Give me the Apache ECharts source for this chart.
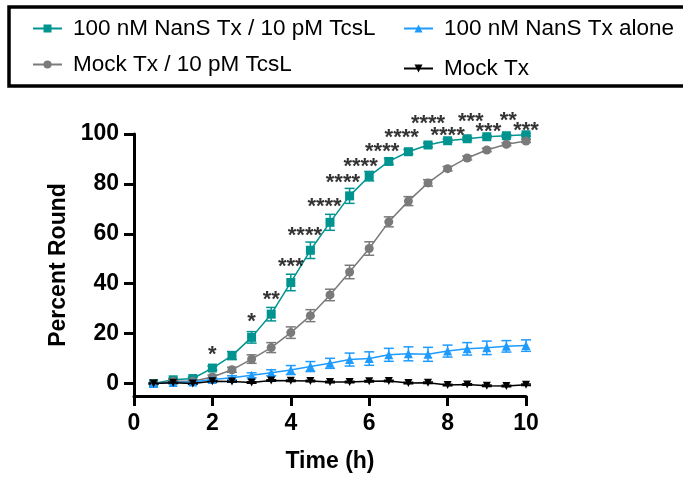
<!DOCTYPE html>
<html>
<head>
<meta charset="utf-8">
<script src="https://cdn.jsdelivr.net/npm/echarts@6/dist/echarts.min.js"></script>
<style>
  html, body { margin: 0; padding: 0; background: #fff; }
  #chart { width: 683px; height: 479px; }
</style>
</head>
<body>
<div id="chart"></div>
<script>
// Time points (h)
const times = [0.5, 1, 1.5, 2, 2.5, 3, 3.5, 4, 4.5, 5, 5.5, 6, 6.5, 7, 7.5, 8, 8.5, 9, 9.5, 10];

// Percent round cells (mean) and SEM per condition
const nansTcsl = [0, 1.5, 2, 6.2, 11.2, 18.5, 27.8, 40.5, 53.4, 64.6, 75.2, 83.1, 89, 92.9, 95.6, 97.3, 98.1, 98.9, 99.3, 99.7];
const nansTcslErr = [0.3, 0.5, 0.6, 0.8, 1.6, 2.3, 2.7, 3.3, 3.3, 3.2, 3, 1.9, 1.2, 0.9, 0.8, 0.6, 0.6, 0.5, 0.5, 0.5];

const mockTcsl = [0, 0.9, 0.9, 2.6, 5.5, 9.8, 14.4, 20.4, 27.2, 35.5, 44.7, 54.1, 64.8, 73.1, 80.4, 86.1, 90.4, 93.6, 95.9, 97.2];
const mockTcslErr = [0.3, 0.5, 0.5, 0.8, 1.0, 1.7, 2.0, 2.3, 2.4, 2.3, 2.7, 2.7, 2.0, 1.8, 1.3, 0.9, 0.8, 0.7, 0.6, 0.6];

const nansAlone = [0, 0.4, 0.6, 1.6, 2.3, 3.3, 4.3, 5.4, 6.8, 8.1, 9.6, 10.0, 11.5, 11.9, 11.7, 13.0, 13.9, 14.3, 14.9, 15.2];
const nansAloneErr = [0.2, 0.3, 0.4, 0.6, 0.8, 1.0, 1.2, 1.8, 2.0, 2.0, 2.6, 2.7, 2.6, 2.8, 2.8, 2.4, 2.5, 2.7, 2.3, 2.3];

const mockTx = [0, 0.3, 0, 0.9, 0.8, 0.4, 1.2, 1.1, 1.0, 0.6, 0.6, 0.9, 1.0, 0.2, 0.3, -0.6, -0.4, -0.9, -1.0, -0.5];
const mockTxErr = [0.2, 0.3, 0.3, 0.3, 0.3, 0.3, 0.3, 0.3, 0.3, 0.3, 0.3, 0.3, 0.3, 0.3, 0.3, 0.3, 0.3, 0.3, 0.3, 0.3];

// Significance marks (NanS/TcsL vs Mock/TcsL) and where they sit
const sigText = ['*', '*', '**', '***', '****', '****', '****', '****', '****', '****', '****', '****', '***', '***', '**', '***'];
const sigX = [2.0, 3.0, 3.5, 4.0, 4.36, 4.86, 5.33, 5.78, 6.33, 6.83, 7.5, 8.0, 8.59, 9.04, 9.55, 10.0];
const sigY = [13.4, 26.8, 35.5, 48.7, 61.1, 72.9, 82.3, 88.9, 95.0, 100.3, 105.9, 101.2, 107.0, 102.7, 107.1, 103.2];

// Axis ticks
const xTicks = [0, 2, 4, 6, 8, 10];
const yTicks = [0, 20, 40, 60, 80, 100];

const FONT = '"Liberation Sans", Arial, Helvetica, sans-serif';

const groups = [
  { key: 'nansTcsl', name: '100 nM NanS Tx / 10 pM TcsL', mean: nansTcsl, err: nansTcslErr, color: '#009490', symbol: 'rect', size: 9, rotate: 0 },
  { key: 'mockTcsl', name: 'Mock Tx / 10 pM TcsL', mean: mockTcsl, err: mockTcslErr, color: '#7a7a7a', symbol: 'circle', size: 9, rotate: 0 },
  { key: 'nansAlone', name: '100 nM NanS Tx alone', mean: nansAlone, err: nansAloneErr, color: '#1e9bff', symbol: 'triangle', size: 9, rotate: 0 },
  { key: 'mockTx', name: 'Mock Tx', mean: mockTx, err: mockTxErr, color: '#000000', symbol: 'triangle', size: 8, rotate: 180 }
];

// Vertical SEM bar with caps
function errorBarRender(color) {
  return function (params, api) {
    const x = api.value(0), v = api.value(1), e = api.value(2);
    const top = api.coord([x, v + e]);
    const bot = api.coord([x, v - e]);
    const w = 5;
    const style = { stroke: color, lineWidth: 1.5, fill: null };
    return {
      type: 'group',
      children: [
        { type: 'line', shape: { x1: top[0], y1: top[1], x2: bot[0], y2: bot[1] }, style },
        { type: 'line', shape: { x1: top[0] - w, y1: top[1], x2: top[0] + w, y2: top[1] }, style },
        { type: 'line', shape: { x1: bot[0] - w, y1: bot[1], x2: bot[0] + w, y2: bot[1] }, style }
      ]
    };
  };
}

const series = [];
groups.forEach(function (g, k) {
  series.push({
    type: 'line',
    name: g.name,
    data: times.map(function (t, i) { return [t, g.mean[i]]; }),
    symbol: g.symbol,
    symbolSize: g.size,
    symbolRotate: g.rotate,
    showSymbol: true,
    lineStyle: { color: g.color, width: 1.5 },
    itemStyle: { color: g.color },
    z: 3 + k
  });
  series.push({
    type: 'custom',
    id: g.key + '-sem',
    renderItem: errorBarRender(g.color),
    itemStyle: { color: g.color },
    data: times.map(function (t, i) { return [t, g.mean[i], g.err[i]]; }),
    encode: { x: 0, y: 1 },
    z: 2 + k,
    silent: true
  });
});

series.push({
  type: 'scatter',
  id: 'significance',
  data: sigX.map(function (x, i) { return [x, sigY[i]]; }),
  symbolSize: 1,
  itemStyle: { color: 'rgba(0,0,0,0)' },
  clip: false,
  silent: true,
  z: 10,
  label: {
    show: true,
    position: 'inside',
    formatter: function (p) { return sigText[p.dataIndex]; },
    fontSize: 22,
    fontWeight: 'bold',
    fontFamily: FONT,
    color: '#000',
    offset: [0, 5]
  }
});

const legendCommon = {
  itemWidth: 29,
  itemHeight: 10,
  selectedMode: false,
  textStyle: { fontSize: 22.5, fontFamily: FONT, color: '#000', padding: [0, 0, 0, 6] }
};

const option = {
  animation: false,
  backgroundColor: '#fff',
  textStyle: { fontFamily: FONT },
  grid: { left: 134, right: 157, top: 134, bottom: 83, containLabel: false },
  graphic: [{
    type: 'rect',
    shape: { x: 9, y: 7, width: 700, height: 79 },
    style: { fill: null, stroke: '#000', lineWidth: 3.5 },
    z: 100
  }],
  legend: [
    Object.assign({ data: ['100 nM NanS Tx / 10 pM TcsL'], left: 27, top: 12 }, legendCommon),
    Object.assign({ data: ['Mock Tx / 10 pM TcsL'], left: 27, top: 48 }, legendCommon),
    Object.assign({ data: ['100 nM NanS Tx alone'], left: 398, top: 12 }, legendCommon),
    Object.assign({ data: ['Mock Tx'], left: 398, top: 52 }, legendCommon)
  ],
  xAxis: {
    type: 'value',
    min: 0,
    max: 10,
    interval: 2,
    name: 'Time (h)',
    nameLocation: 'middle',
    nameGap: 54,
    nameTextStyle: { fontSize: 23, fontWeight: 'bold', color: '#000', fontFamily: FONT },
    axisLine: { show: true, onZero: false, lineStyle: { color: '#000', width: 3 } },
    axisTick: { show: true, length: 10, lineStyle: { color: '#000', width: 3 }, customValues: xTicks },
    axisLabel: { fontSize: 23, fontWeight: 'bold', color: '#000', margin: 16, fontFamily: FONT, customValues: xTicks },
    splitLine: { show: false }
  },
  yAxis: {
    type: 'value',
    min: -5,
    max: 100,
    name: 'Percent Round',
    nameLocation: 'middle',
    nameGap: 62,
    nameRotate: 90,
    nameTextStyle: { fontSize: 23, fontWeight: 'bold', color: '#000', fontFamily: FONT },
    axisLine: { show: true, lineStyle: { color: '#000', width: 3 } },
    axisTick: { show: true, length: 10, lineStyle: { color: '#000', width: 3 }, customValues: yTicks },
    axisLabel: { fontSize: 23, fontWeight: 'bold', color: '#000', margin: 15, fontFamily: FONT, customValues: yTicks },
    splitLine: { show: false }
  },
  series: series
};

const chart = echarts.init(document.getElementById('chart'), null, { renderer: 'canvas' });
chart.setOption(option);
</script>
</body>
</html>
